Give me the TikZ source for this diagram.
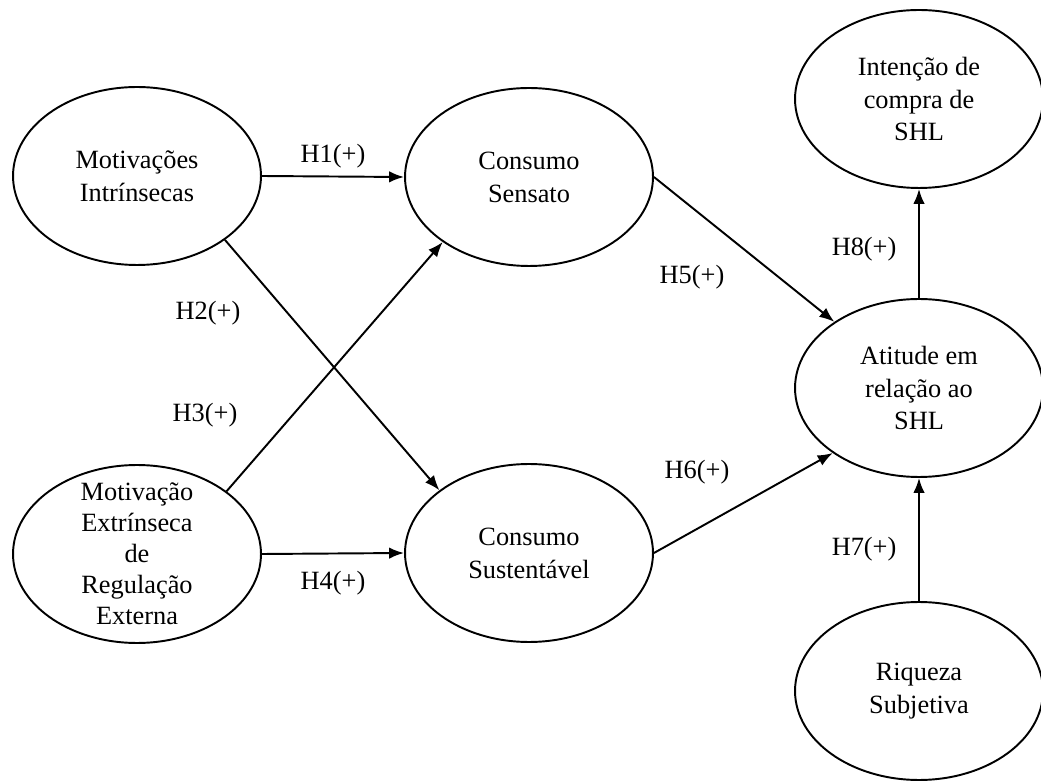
\documentclass[tikz,border=0pt]{standalone}
\usepackage{fontspec}
\setmainfont{Liberation Serif}
\usetikzlibrary{shapes.geometric,arrows.meta,positioning}

\tikzset{
  construct/.style={ellipse, draw, line width=1.1pt, minimum width=4.96cm,
    minimum height=3.56cm, inner sep=0pt, align=center,
    font=\fontsize{15}{18.7}\selectfont},
  path/.style={-{Latex[length=3mm,width=2.3mm]}, line width=1.1pt},
  hyp/.style={font=\fontsize{15}{18}\selectfont}
}

\begin{document}
\begin{tikzpicture}[x=0.02cm, y=-0.02cm]
\useasboundingbox (0,0) rectangle (1041,783);

% ================= CONSTRUCTS =================
\node[construct] (mi)   at (137,176) {Motivações\\Intrínsecas};
\node[construct, inner ysep=-9pt, font=\fontsize{15}{17.6}\selectfont]
  (mre)  at (137,554) {Motivação\\Extrínseca\\de\\Regulação\\Externa};
\node[construct] (cse)  at (529,177) {Consumo\\Sensato};
\node[construct] (csu)  at (529,553) {Consumo\\Sustentável};
\node[construct] (att)  at (919,388) {Atitude em\\relação ao\\SHL};
\node[construct] (int)  at (919,99)  {Intenção de\\compra de\\SHL};
\node[construct] (riq)  at (919,691) {Riqueza\\Subjetiva};

% ================= PATHS =================
\draw[path] (mi.east) -- (cse.west)
  node[midway, above=1pt, hyp] {H1(+)};
\draw[path] (mi.-36) -- (csu.145);
\draw[path] (mre.35) -- (cse.217);
\draw[path] (mre.east) -- (csu.west)
  node[midway, below=6pt, hyp] {H4(+)};
\draw[path] (cse.east) -- (att.142);
\draw[path] (csu.east) -- (att.217);
\draw[path] (riq.north) -- (att.south)
  node[pos=0.42, left=9pt, hyp] {H7(+)};
\draw[path] (att.north) -- (int.south)
  node[pos=0.45, left=9pt, hyp] {H8(+)};

% labels of the crossing paths
\node[hyp] (h2) at (208,313) {H2(+)};
\node[hyp] (h3) at (205,415) {H3(+)};
\node[hyp] (h5) at (692,277) {H5(+)};
\node[hyp] (h6) at (697,472) {H6(+)};

\end{tikzpicture}
\end{document}
